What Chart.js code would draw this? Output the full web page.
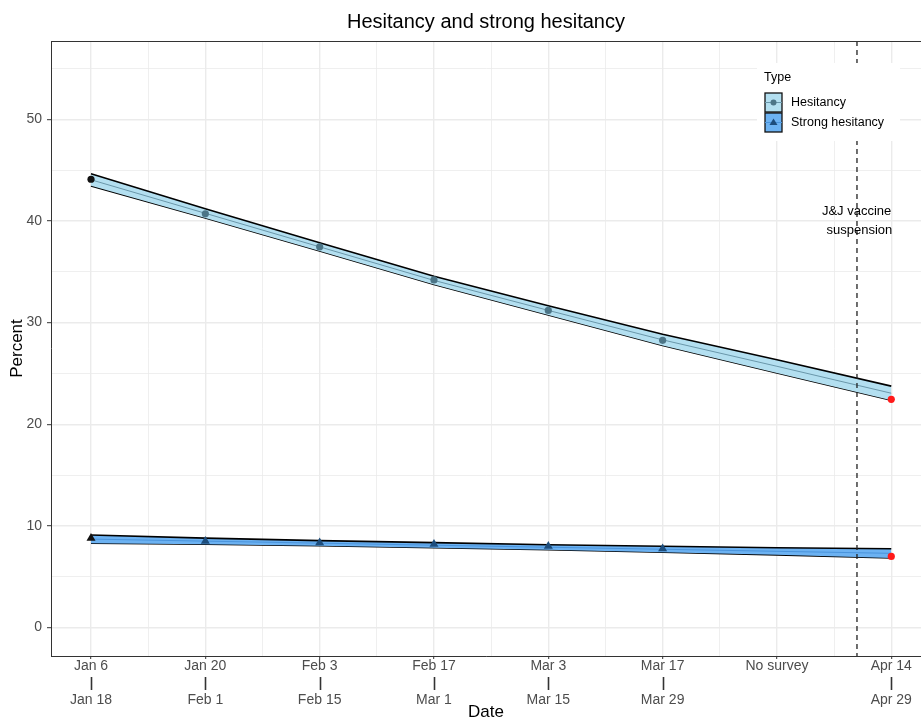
<!DOCTYPE html>
<html>
<head>
<meta charset="utf-8">
<script src="https://cdn.jsdelivr.net/npm/chart.js@4.4.1/dist/chart.umd.min.js"></script>
<style>
  html, body { margin: 0; padding: 0; background: #fff; }
</style>
</head>
<body>
<canvas id="canvas" width="921" height="721"></canvas>
<script>
const FONT = "'Liberation Sans', Arial, Helvetica, sans-serif";

// survey waves (x = wave index)
const waveIndex = [0, 1, 2, 3, 4, 5, 6, 7];
const waveStart = ["Jan 6", "Jan 20", "Feb 3", "Feb 17", "Mar 3", "Mar 17", "No survey", "Apr 14"];
const waveEnd = ["Jan 18", "Feb 1", "Feb 15", "Mar 1", "Mar 15", "Mar 29", "", "Apr 29"];

// observed percentages (null = no survey)
const hesitancy = [44.1, 40.7, 37.45, 34.2, 31.2, 28.25, null, 22.45];
const strongHesitancy = [8.8, 8.5, 8.35, 8.2, 8.0, 7.75, null, 7.0];

// fitted trend and band
const hesitancyFit = [44.05, 40.75, 37.45, 34.15, 31.2, 28.3, 25.7, 23.05];
const hesitancyHigh = [44.65, 41.2, 37.85, 34.55, 31.65, 28.85, 26.35, 23.75];
const hesitancyLow = [43.45, 40.3, 37.05, 33.75, 30.75, 27.75, 25.05, 22.35];

const strongFit = [8.7, 8.5, 8.3, 8.1, 7.9, 7.7, 7.5, 7.3];
const strongHigh = [9.1, 8.8, 8.55, 8.35, 8.15, 8.0, 7.85, 7.75];
const strongLow = [8.3, 8.2, 8.05, 7.85, 7.65, 7.4, 7.15, 6.85];

// J&J pause marker
const suspensionX = 6.7;
const suspensionLabel = ["J&J vaccine", "suspension"];
const suspensionLabelY = 40.9;

const yTickValues = [0, 5, 10, 15, 20, 25, 30, 35, 40, 45, 50, 55];
const xTickValues = [0, 0.5, 1, 1.5, 2, 2.5, 3, 3.5, 4, 4.5, 5, 5.5, 6, 6.5, 7];

const HES_FILL = "#b3dff0";
const HES_LINE = "#6a97aa";
const HES_POINT = "#4c7587";
const STR_FILL = "#6cb2f2";
const STR_LINE = "#4a94dc";
const STR_POINT = "#1d4d7c";

function toPoints(values) {
  return waveIndex
    .map((x, i) => ({ x: x, y: values[i] }))
    .filter(p => p.y !== null);
}

function pointColors(values, mid) {
  const pts = toPoints(values);
  return pts.map((p, i) => (i === 0 ? "#111111" : i === pts.length - 1 ? "#ff1a1a" : mid));
}

function pointStyles(values, style) {
  const pts = toPoints(values);
  return pts.map((p, i) => (i === pts.length - 1 ? "circle" : style));
}

function pointSizes(values, size) {
  const pts = toPoints(values);
  return pts.map((p, i) => (i === pts.length - 1 ? 3.6 : size));
}

const lineBase = { showLine: true, pointRadius: 0, tension: 0, fill: false };

// let the panel run to the right edge of the canvas, like the original
const stretchPanel = {
  id: "stretchPanel",
  afterLayout(chart) {
    const ca = chart.chartArea;
    ca.right = chart.width;
    ca.width = ca.right - ca.left;
    const x = chart.scales.x;
    x.right = chart.width;
    x.width = x.right - x.left;
    x.configure();
  }
};

const extras = {
  id: "extras",
  afterDatasetsDraw(chart) {
    const { ctx, chartArea, scales } = chart;
    const x = scales.x, y = scales.y;
    ctx.save();
    // dashed suspension line
    const sx = x.getPixelForValue(suspensionX);
    ctx.strokeStyle = "#222";
    ctx.lineWidth = 1.3;
    ctx.setLineDash([5, 4]);
    ctx.beginPath();
    ctx.moveTo(sx, chartArea.top);
    ctx.lineTo(sx, chartArea.bottom);
    ctx.stroke();
    ctx.setLineDash([]);

    // annotation text
    ctx.fillStyle = "#000";
    ctx.font = "13px " + FONT;
    ctx.textAlign = "right";
    ctx.textBaseline = "middle";
    const ax = x.getPixelForValue(7);
    const ay = y.getPixelForValue(suspensionLabelY);
    ctx.fillText(suspensionLabel[0], ax, ay);
    ctx.fillText(suspensionLabel[1], ax + 1, ay + 19);

    // legend
    const lx = chartArea.right - 164, ly = chartArea.top + 22;
    ctx.fillStyle = "#fff";
    ctx.fillRect(lx, ly, 143, 78);
    ctx.fillStyle = "#000";
    ctx.textAlign = "left";
    ctx.font = "12.5px " + FONT;
    ctx.fillText("Type", lx + 7, ly + 15);
    const keys = [
      { label: "Hesitancy", fill: HES_FILL, line: HES_LINE, point: HES_POINT, style: "circle" },
      { label: "Strong hesitancy", fill: STR_FILL, line: STR_LINE, point: STR_POINT, style: "triangle" }
    ];
    keys.forEach((k, i) => {
      const kx = lx + 8, ky = ly + 30 + i * 20;
      ctx.fillStyle = k.fill;
      ctx.fillRect(kx, ky, 17, 19);
      ctx.strokeStyle = "#111";
      ctx.lineWidth = 1.3;
      ctx.strokeRect(kx, ky, 17, 19);
      ctx.strokeStyle = k.line;
      ctx.lineWidth = 1;
      ctx.beginPath();
      ctx.moveTo(kx, ky + 9.5);
      ctx.lineTo(kx + 17, ky + 9.5);
      ctx.stroke();
      ctx.fillStyle = k.point;
      ctx.beginPath();
      if (k.style === "circle") {
        ctx.arc(kx + 8.5, ky + 9.5, 3, 0, Math.PI * 2);
      } else {
        ctx.moveTo(kx + 8.5, ky + 5.5);
        ctx.lineTo(kx + 12.5, ky + 12);
        ctx.lineTo(kx + 4.5, ky + 12);
        ctx.closePath();
      }
      ctx.fill();
      ctx.fillStyle = "#000";
      ctx.font = "12.5px " + FONT;
      ctx.fillText(k.label, kx + 26, ky + 10);
    });

    // top panel border
    ctx.strokeStyle = "#333";
    ctx.lineWidth = 1;
    ctx.beginPath();
    ctx.moveTo(chartArea.left, chartArea.top + 0.5);
    ctx.lineTo(chartArea.right, chartArea.top + 0.5);
    ctx.stroke();

    // bars joining the start/end dates
    ctx.strokeStyle = "#333";
    ctx.lineWidth = 1.6;
    waveIndex.forEach(i => {
      if (!waveEnd[i]) return;
      const px = Math.round(x.getPixelForValue(i)) + 0.5;
      ctx.beginPath();
      ctx.moveTo(px, chartArea.bottom + 21);
      ctx.lineTo(px, chartArea.bottom + 34);
      ctx.stroke();
    });

    // title over the panel
    ctx.fillStyle = "#000";
    ctx.font = "20px " + FONT;
    ctx.textAlign = "center";
    ctx.fillText("Hesitancy and strong hesitancy", (chartArea.left + chartArea.right) / 2, 22);
    ctx.restore();
  }
};

const isMajorX = v => Number.isInteger(v);
const isMajorY = v => v % 10 === 0;

const chart = new Chart(document.getElementById("canvas"), {
  type: "scatter",
  data: {
    datasets: [
      {
        label: "Hesitancy",
        data: toPoints(hesitancy),
        pointStyle: "circle",
        pointRadius: 3.6,
        pointBorderWidth: 0,
        pointBackgroundColor: pointColors(hesitancy, HES_POINT)
      },
      {
        label: "Strong hesitancy",
        data: toPoints(strongHesitancy),
        pointStyle: pointStyles(strongHesitancy, "triangle"),
        pointRadius: pointSizes(strongHesitancy, 5.2),
        pointBorderWidth: 0,
        pointBackgroundColor: pointColors(strongHesitancy, STR_POINT)
      },
      { ...lineBase, label: "hes fit", data: toPoints(hesitancyFit), borderColor: HES_LINE, borderWidth: 1 },
      { ...lineBase, label: "str fit", data: toPoints(strongFit), borderColor: STR_LINE, borderWidth: 1 },
      { ...lineBase, label: "hes high", data: toPoints(hesitancyHigh), borderColor: "#000", borderWidth: 1.6, fill: "+1", backgroundColor: HES_FILL },
      { ...lineBase, label: "hes low", data: toPoints(hesitancyLow), borderColor: "#000", borderWidth: 1.6 },
      { ...lineBase, label: "str high", data: toPoints(strongHigh), borderColor: "#000", borderWidth: 1.6, fill: "+1", backgroundColor: STR_FILL },
      { ...lineBase, label: "str low", data: toPoints(strongLow), borderColor: "#000", borderWidth: 1.6 }
    ]
  },
  options: {
    responsive: false,
    animation: false,
    layout: { padding: { top: 41, left: 0, right: 0, bottom: 0 } },
    plugins: {
      legend: { display: false },
      tooltip: { enabled: false },
      title: { display: false }
    },
    scales: {
      x: {
        type: "linear",
        min: -0.35,
        max: 7.26,
        afterBuildTicks: s => { s.ticks = xTickValues.map(v => ({ value: v })); },
        afterFit: s => { s.height = 65; },
        border: { color: "#333", width: 1 },
        grid: {
          color: "#ebebeb",
          lineWidth: c => (isMajorX(c.tick.value) ? 1.4 : 0.8),
          drawTicks: true,
          tickLength: 3,
          tickColor: c => (isMajorX(c.tick.value) ? "#333" : "rgba(0,0,0,0)"),
          tickWidth: 1
        },
        ticks: {
          autoSkip: false,
          maxRotation: 0,
          padding: -1,
          color: "#4d4d4d",
          font: { family: FONT, size: 14 },
          callback: v => (isMajorX(v) ? [waveStart[v], "", waveEnd[v]] : "")
        },
        title: {
          display: true,
          text: "Date",
          color: "#000",
          font: { family: FONT, size: 17, lineHeight: 1 },
          padding: { top: 0, bottom: 0 }
        }
      },
      y: {
        type: "linear",
        min: -2.8,
        max: 57.7,
        afterBuildTicks: s => { s.ticks = yTickValues.map(v => ({ value: v })); },
        afterFit: s => { s.width = 51; },
        border: { color: "#333", width: 1 },
        grid: {
          color: "#ebebeb",
          lineWidth: c => (isMajorY(c.tick.value) ? 1.4 : 0.8),
          drawTicks: true,
          tickLength: 4,
          tickColor: c => (isMajorY(c.tick.value) ? "#333" : "rgba(0,0,0,0)"),
          tickWidth: 1
        },
        ticks: {
          padding: 5,
          color: "#4d4d4d",
          font: { family: FONT, size: 14 },
          callback: v => (isMajorY(v) ? String(v) : "")
        },
        title: {
          display: true,
          text: "Percent",
          color: "#000",
          font: { family: FONT, size: 17 },
          padding: { top: 7, bottom: 0 }
        }
      }
    }
  },
  plugins: [stretchPanel, extras]
});
</script>
</body>
</html>
